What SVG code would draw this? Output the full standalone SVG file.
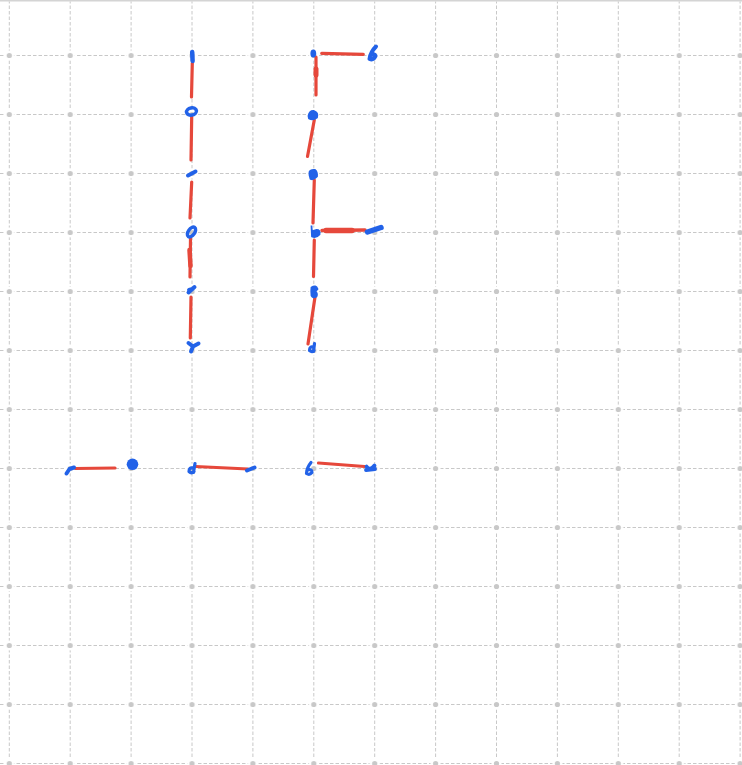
<svg xmlns="http://www.w3.org/2000/svg" width="742" height="765" viewBox="0 0 742 765">
<defs>
<style>
.g{stroke:#c8c8c8;stroke-width:1;stroke-dasharray:3.5 2;fill:none}
.r{stroke:#e6483b;stroke-width:3.2;stroke-linecap:round;stroke-linejoin:round;fill:none}
.b{stroke:#2262e8;stroke-width:4;stroke-linecap:round;stroke-linejoin:round;fill:none}
.bf{fill:#2262e8;stroke:#2262e8;stroke-width:1.8;stroke-linejoin:round}
</style>
<pattern id="dots" patternUnits="userSpaceOnUse" x="-21.15" y="26" width="60.9" height="59">
<circle cx="30.45" cy="29.5" r="5" fill="#fff"/>
<circle cx="30.45" cy="29.5" r="2.6" fill="#c8c8c8"/>
</pattern>
</defs>
<rect width="742" height="765" fill="#fff"/>
<g id="grid">
<g class="g">
<path d="M9.3 0V765M70.2 0V765M131.1 0V765M192 0V765M252.9 0V765M313.8 0V765M374.7 0V765M435.6 0V765M496.5 0V765M557.4 0V765M618.3 0V765M679.2 0V765M740.1 0V765"/>
<path d="M0 55.5H742M0 114.5H742M0 173.5H742M0 232.5H742M0 291.5H742M0 350.5H742M0 409.5H742M0 468.5H742M0 527.5H742M0 586.5H742M0 645.5H742M0 704.5H742M0 763.5H742"/>
</g>
<rect width="742" height="765" fill="url(#dots)"/>
<line x1="0" y1="0.75" x2="742" y2="0.75" stroke="#d4d4d4" stroke-width="1.5"/>
</g>
<g id="connectors" class="r">
<path d="M192.3 63L191.5 97"/>
<path d="M191.7 117L191 160"/>
<path d="M191.7 182L190 218"/>
<path d="M190.5 238L190 277"/>
<path d="M189.5 250L190.5 266" stroke-width="4.5"/>
<path d="M191 297L190.3 338"/>
<path d="M321.7 53.3L363.3 54.3"/>
<path d="M316 57L316 95"/>
<path d="M316 69L316 75" stroke-width="5"/>
<path d="M314.3 120L307.5 156.5"/>
<path d="M314.3 180L313 223"/>
<path d="M322 230.5L365 230" stroke-width="3.5"/>
<path d="M326 230.5L352 230.5" stroke-width="5.5"/>
<path d="M314.3 240L313.5 276.5"/>
<path d="M315 297L308 344"/>
<path d="M75.5 468.5L115 468"/>
<path d="M195.5 466.5L248 469"/>
<path d="M318.5 463L364.5 466.5"/>
</g>
<g id="n1" class="b"><path d="M192.2 52L192.6 61" stroke-width="4.5"/></g>
<g id="n2" class="b"><ellipse cx="191.5" cy="111.5" rx="5" ry="3.6" stroke-width="3.5" transform="rotate(-10 191.5 111.5)"/></g>
<g id="n3" class="b"><path d="M188 175.5L195.5 171.5"/></g>
<g id="n4" class="b"><ellipse cx="191.5" cy="232" rx="5.5" ry="3.2" stroke-width="3.5" transform="rotate(-55 191.5 232)"/></g>
<g id="n5" class="b"><path d="M188.5 292.5L194.5 287M189 290L192.5 289"/></g>
<g id="n6" class="b"><path d="M188.5 343L193 346.5L198.5 343.5M193 346.5L191 351.5"/></g>
<g id="m1" class="bf"><ellipse cx="313.3" cy="53.5" rx="2" ry="3"/></g>
<g id="m2" class="b"><path d="M376 46.5Q370.5 52 369.5 59Q373.5 60.5 375.5 56Q374.5 53 370.5 55"/></g>
<g id="m3" class="bf"><path d="M308.5 116Q309.5 110.5 314 111Q318.5 112.5 317 117.5Q313 120.5 309 118.5Z"/></g>
<g id="m4" class="bf"><path d="M309.5 172Q310.5 169.5 315 170Q317.5 172 317 176.5Q314 180 310.5 179Q309 175 309.5 172Z"/></g>
<g id="m5" class="bf"><path d="M311.5 225.5L312 236.5Q316 238.5 319.5 234.5Q320.5 229.5 316 230L312.5 231"/></g>
<g id="m6" class="b"><path d="M367.5 232L381 227.5" stroke-width="5.5"/></g>
<g id="m7" class="bf"><path d="M311.5 287.5Q316 284.5 317.5 289Q316.5 291 314.5 291Q318 293 316.5 296.5Q313 298.5 311.5 295.5Q311 291 311.5 287.5Z"/></g>
<g id="m8" class="b"><path d="M314.5 343.5L313.5 351.5M314 347.5Q309.5 345.5 309.5 350.5Q312 352.5 314 350.5" stroke-width="3.2"/></g>
<g id="r1" class="b"><path d="M66.5 473.5L69.5 469L74 467.5"/></g>
<g id="r2"><circle cx="132.5" cy="464.3" r="5.8" fill="#2262e8"/></g>
<g id="r3" class="b"><path d="M195 463.5L193.5 472.5M193.5 468Q189 467 189 471.5Q191.5 474 194 471.5" stroke-width="3.2"/></g>
<g id="r4" class="b"><path d="M247 470.5L254.5 467.5"/></g>
<g id="r5" class="b"><path d="M311 462.5Q306.5 468 306.5 473.5Q309.5 475.5 312 472.5Q312 468.5 307.5 470" stroke-width="3.2"/></g>
<g id="r6" class="b"><path d="M366.5 466.5Q370 471.5 374.5 465.5M366 470L375 469" stroke-width="3.8"/></g>
</svg>
